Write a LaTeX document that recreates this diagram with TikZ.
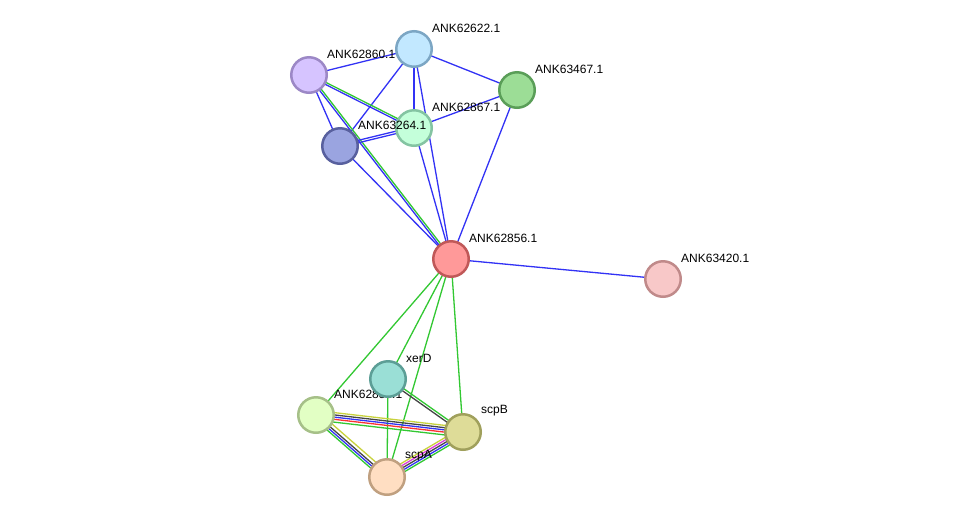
\documentclass[tikz,border=0pt]{standalone}
\usepackage{fontspec}
\setmainfont{Liberation Sans}
\usetikzlibrary{calc,backgrounds}
\definecolor{eblue}{RGB}{50,50,245}
\definecolor{egreen}{RGB}{50,200,50}
\definecolor{egray}{RGB}{70,70,70}
\definecolor{eyellow}{RGB}{200,210,60}
\definecolor{ered}{RGB}{250,50,50}
\definecolor{emag}{RGB}{220,60,220}
\definecolor{fA}{HTML}{FF9999}\definecolor{bA}{HTML}{C05858}
\definecolor{fB}{HTML}{C2E8FF}\definecolor{bB}{HTML}{7CA6C4}
\definecolor{fC}{HTML}{D6C4FF}\definecolor{bC}{HTML}{9C88C6}
\definecolor{fD}{HTML}{9CDD96}\definecolor{bD}{HTML}{5A9E58}
\definecolor{fE}{HTML}{C4FFDA}\definecolor{bE}{HTML}{84C4A2}
\definecolor{fF}{HTML}{9AA4E0}\definecolor{bF}{HTML}{58609E}
\definecolor{fG}{HTML}{F8C8C8}\definecolor{bG}{HTML}{C08A8A}
\definecolor{fH}{HTML}{9ADFD6}\definecolor{bH}{HTML}{5C9E96}
\definecolor{fI}{HTML}{E2FFC4}\definecolor{bI}{HTML}{A6C088}
\definecolor{fJ}{HTML}{DEDC98}\definecolor{bJ}{HTML}{A0A05C}
\definecolor{fK}{HTML}{FFDEC2}\definecolor{bK}{HTML}{C0A080}
\newcommand\pe[4]{\draw[edge,#4] ($(#1)!#3!90:(#2)$) -- ($(#2)!#3!-90:(#1)$);}
\begin{document}
\begin{tikzpicture}[x=1pt,y=-1pt,
  prot/.style={circle,minimum size=35.5pt,inner sep=0pt,line width=2.5pt},
  lbl/.style={anchor=west,font=\fontsize{12}{14}\selectfont,inner sep=0pt},
  edge/.style={line width=1.3pt}]
\useasboundingbox (0,0) rectangle (976,523);
% nodes
\node[prot,fill=fC,draw=bC] (n60) at (309,75) {};
\node[prot,fill=fB,draw=bB] (n22) at (414,49) {};
\node[prot,fill=fD,draw=bD] (n67a) at (517,90) {};
\node[prot,fill=fE,draw=bE] (n67) at (414,128) {};
\node[prot,fill=fF,draw=bF] (n64) at (340,146) {};
\node[prot,fill=fA,draw=bA] (n56) at (451,259) {};
\node[prot,fill=fG,draw=bG] (n20) at (663,279) {};
\node[prot,fill=fI,draw=bI] (n58) at (316,415) {};
\node[lbl] (l58) at (334,394) {ANK62858.1};
\node[prot,fill=fH,draw=bH] (xd) at (388,379) {};
\node[prot,fill=fJ,draw=bJ] (sb) at (463,432) {};
\node[prot,fill=fK,draw=bK] (sa) at (387,477) {};
% labels
\node[lbl] (l60) at (327,54) {ANK62860.1};
\node[lbl] (l22) at (432,28) {ANK62622.1};
\node[lbl] (l67a) at (535,69) {ANK63467.1};
\node[lbl] (l67) at (432,107) {ANK62867.1};
\node[lbl] (l64) at (358,125) {ANK63264.1};
\node[lbl] (l56) at (469,238) {ANK62856.1};
\node[lbl] (l20) at (681,258) {ANK63420.1};
\node[lbl] (lxd) at (406,358) {xerD};
\node[lbl] (lsb) at (481,411) {scpB};
\node[lbl] (lsa) at (405,456) {scpA};
% edges
\begin{pgfonlayer}{background}
\fill[white] (0,0) rectangle (976,523);
\pe{n60}{n22}{0pt}{eblue}
\pe{n60}{n64}{0pt}{eblue}
\pe{n22}{n67a}{0pt}{eblue}
\pe{n22}{n67}{0pt}{eblue}
\pe{n22}{n64}{0pt}{eblue}
\pe{n22}{n56}{0pt}{eblue}
\pe{n67}{n67a}{0pt}{eblue}
\pe{n67}{n56}{0pt}{eblue}
\pe{n64}{n56}{0pt}{eblue}
\pe{n67a}{n56}{0pt}{eblue}
\pe{n56}{n20}{0pt}{eblue}
\pe{n60}{n67}{-1pt}{eblue}
\pe{n60}{n67}{1pt}{egreen}
\pe{n60}{n56}{-1pt}{eblue}
\pe{n60}{n56}{1pt}{egreen}
\pe{n64}{n67}{-1.2pt}{eblue}
\pe{n64}{n67}{1.2pt}{eblue}
\pe{n56}{xd}{0pt}{egreen}
\pe{n56}{n58}{0pt}{egreen}
\pe{n56}{sa}{0pt}{egreen}
\pe{n56}{sb}{0pt}{egreen}
\pe{xd}{sa}{0pt}{egreen}
\pe{xd}{sb}{1.2pt}{egreen}
\pe{xd}{sb}{-1.2pt}{egray}
\pe{n58}{sb}{4.5pt}{eyellow}
\pe{n58}{sb}{2.2pt}{egray}
\pe{n58}{sb}{0pt}{eblue}
\pe{n58}{sb}{-2.2pt}{ered}
\pe{n58}{sb}{-5pt}{egreen}
\pe{n58}{sa}{-4pt}{egreen}
\pe{n58}{sa}{-1.8pt}{eblue}
\pe{n58}{sa}{0.4pt}{egray}
\pe{n58}{sa}{3.8pt}{eyellow}
\pe{sa}{sb}{-4.4pt}{egreen}
\pe{sa}{sb}{-2.2pt}{eblue}
\pe{sa}{sb}{0pt}{egray}
\pe{sa}{sb}{2.2pt}{emag}
\pe{sa}{sb}{4.4pt}{eyellow}
\end{pgfonlayer}
\end{tikzpicture}
\end{document}
